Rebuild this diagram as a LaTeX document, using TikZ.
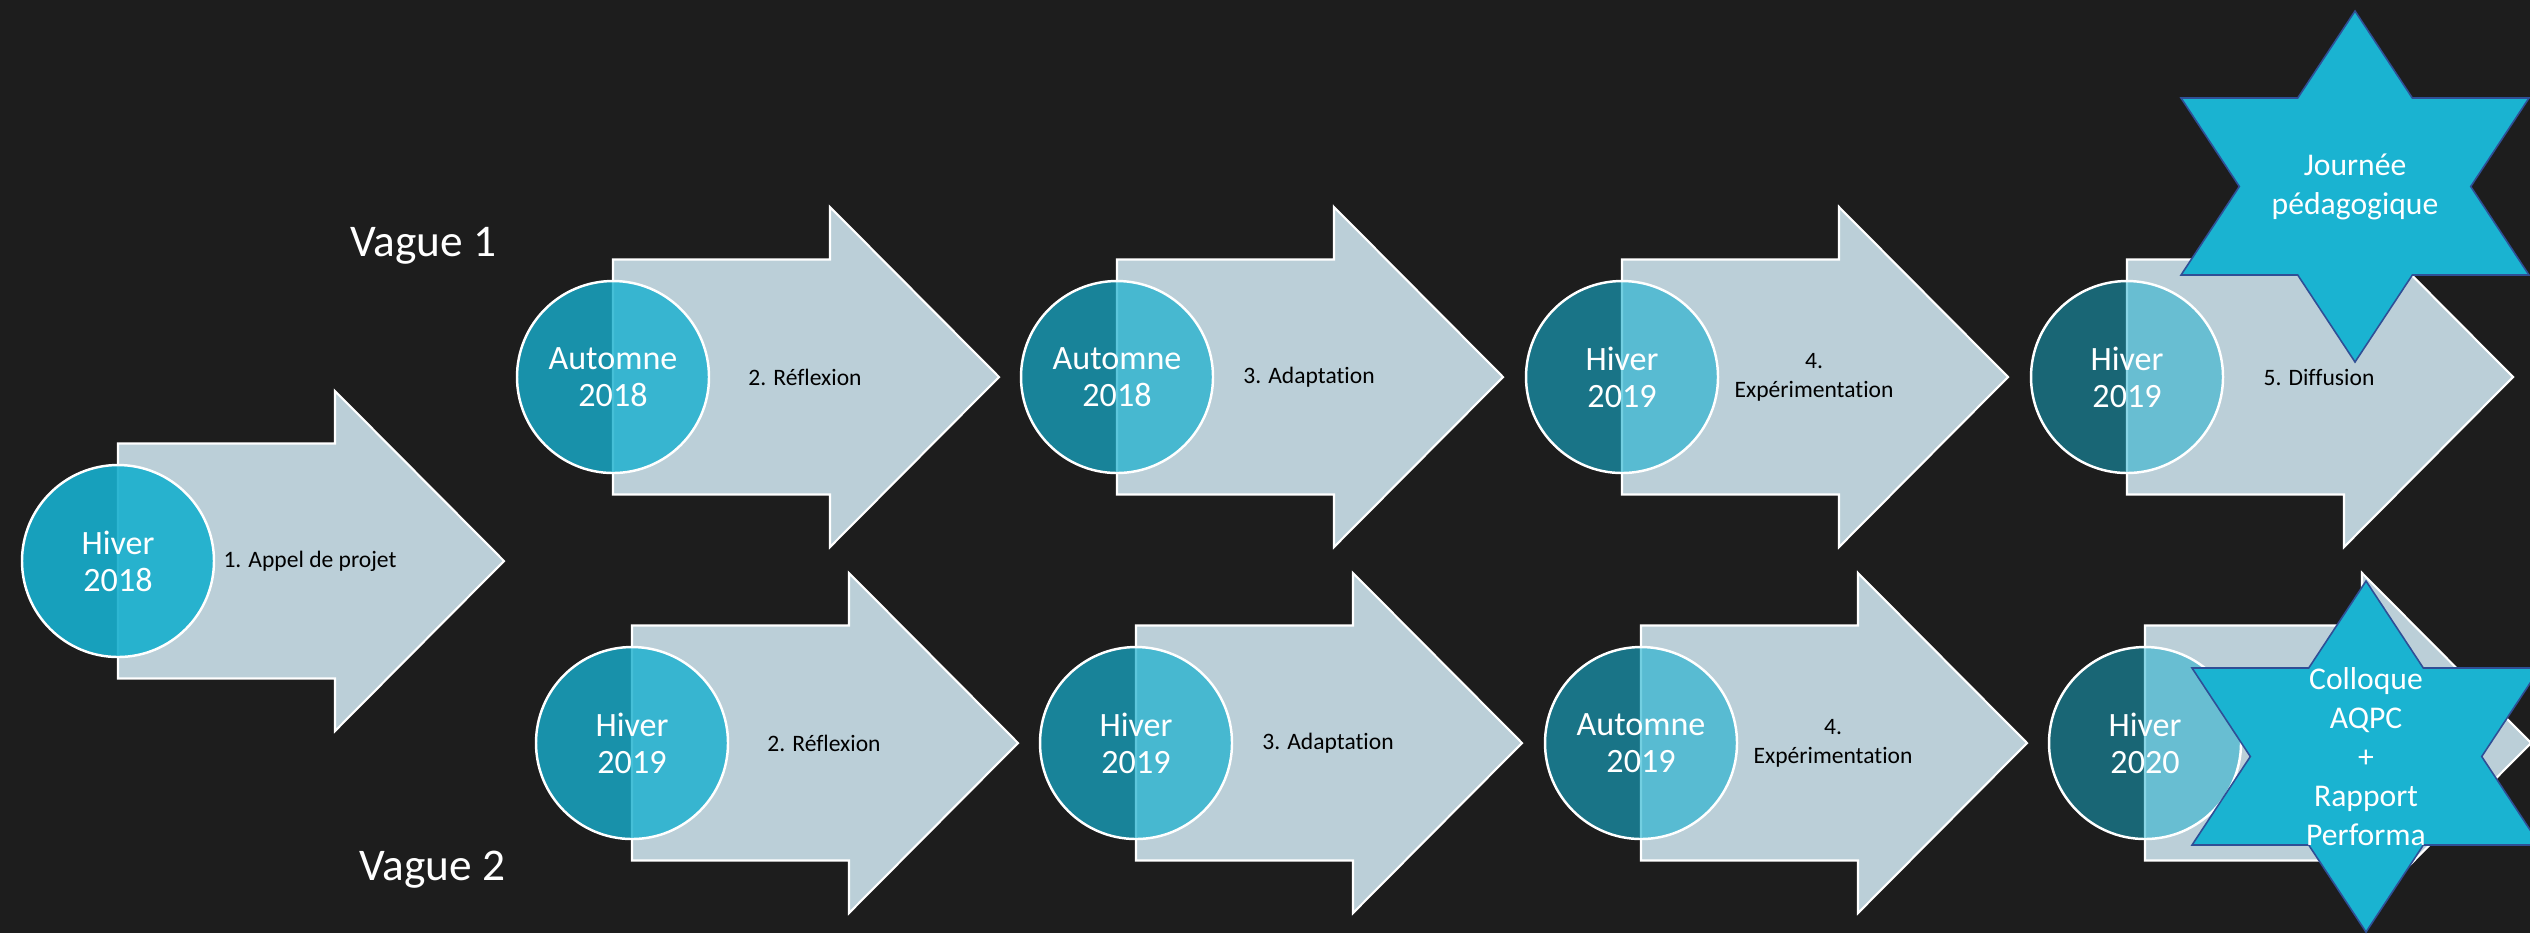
\documentclass[tikz,border=0pt]{standalone}
\usepackage{fontspec}
\setmainfont{Carlito}[Ligatures=NoCommon]
\usepackage{tikz}
\usetikzlibrary{positioning}
\definecolor{fond}{HTML}{1D1D1D}
\definecolor{gris}{HTML}{BBCFD8}
\definecolor{turquoise}{HTML}{17AFCE}
\definecolor{cyanvif}{HTML}{1AB3D1}
\definecolor{marine}{HTML}{2F4F96}
\tikzset{
  phase/.style={fill=gris, draw=white, line width=0.6pt},
  saison/.style={
    circle,
    draw=white, line width=0.7pt,
    fill=turquoise,
    minimum size=19.2mm,
    inner sep=0pt,
    text=white, text opacity=1,
    align=center,
    font=\fontsize{9.7}{10.5}\selectfont,
  },
  etape/.style={
    align=center,
    text=black,
    font=\fontsize{6.7}{8.2}\selectfont,
  },
  vague/.style={text=white, anchor=base, font=\fontsize{12.9}{15}\selectfont},
  etoile/.style={fill=cyanvif, draw=marine, line width=0.45pt, line join=miter},
  annonce/.style={text=white, align=center, font=\fontsize{9}{11.1}\selectfont},
}
% fleche + cercle + etiquette
\newcommand{\Phase}[6]{%
  \draw[phase] (#2,#3-117.5) -- ++(217,0) -- ++(0,-52.5) -- ++(169,170)
    -- ++(-169,170) -- ++(0,-52.5) -- ++(-217,0) -- cycle;
  \node[saison, fill opacity=#4] (#1) at (#2,#3) {#5};
  \node[etape, right of=#1, node distance=19.2mm] (#1t) {#6};
}
% etoile a six branches
\newcommand{\Etoile}[1]{%
  \draw[etoile, shift={(#1)}] (0,-175.5) -- (57.3,-88.5) -- (174,-88.5)
    -- (115.7,0) -- (174,88.5) -- (57.3,88.5) -- (0,175.5) -- (-57.3,88.5)
    -- (-174,88.5) -- (-115.7,0) -- (-174,-88.5) -- (-57.3,-88.5) -- cycle;
}

\begin{document}
\begin{tikzpicture}[x=0.1mm, y=-0.1mm]
  \fill[fond] (0,0) rectangle (2530,933);
  \useasboundingbox (0,0) rectangle (2530,933);

  \Phase{p1}{118}{561}{0.9}{Hiver\\2018}{1. Appel de projet}

  % vague 1
  \Phase{a2}{613}{377}{0.8}{Automne\\2018}{2. Réflexion}
  \Phase{a3}{1117}{377}{0.7}{Automne\\2018}{3. Adaptation}
  \Phase{a4}{1622}{377}{0.6}{Hiver\\2019}{4.\\Expérimentation}
  \Phase{a5}{2127}{377}{0.5}{Hiver\\2019}{5. Diffusion}

  % vague 2
  \Phase{b2}{632}{743}{0.8}{Hiver\\2019}{2. Réflexion}
  \Phase{b3}{1136}{743}{0.7}{Hiver\\2019}{3. Adaptation}
  \Phase{b4}{1641}{743}{0.6}{Automne\\2019}{4.\\Expérimentation}
  \Phase{b5}{2145}{743}{0.5}{Hiver\\2020}{}

  \node[vague] (v1) at (423.5,256) {Vague 1};
  \node[vague] (v2) at (432.5,880) {Vague 2};

  \coordinate (s1) at (2355,186.5);
  \Etoile{s1}
  \node[annonce] (jour) at (s1) {Journée\\pédagogique};

  \coordinate (s2) at (2366,756.5);
  \Etoile{s2}
  \node[annonce] (coll) at (s2) {Colloque\\AQPC\\+\\Rapport\\Performa};
\end{tikzpicture}
\end{document}
